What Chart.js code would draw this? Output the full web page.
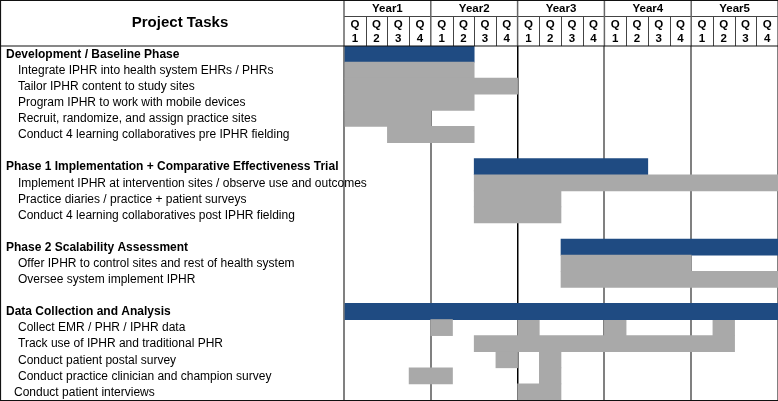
<!DOCTYPE html>
<html>
<head>
<meta charset="utf-8">
<script src="https://cdn.jsdelivr.net/npm/chart.js@4/dist/chart.umd.min.js"></script>
<style>
html,body{margin:0;padding:0;background:#fff;}
#wrap{width:778px;height:401px;position:relative;}
</style>
</head>
<body>
<div id="wrap"><canvas id="c" width="778" height="401"></canvas></div>
<script>
const tasks = [
  'Development / Baseline Phase',
  'Integrate IPHR into health system EHRs / PHRs',
  'Tailor IPHR content to study sites',
  'Program IPHR to work with mobile devices',
  'Recruit, randomize, and assign practice sites',
  'Conduct 4 learning collaboratives pre IPHR fielding',
  '',
  'Phase 1 Implementation + Comparative Effectiveness Trial',
  'Implement IPHR at intervention sites / observe use and outcomes',
  'Practice diaries / practice + patient surveys',
  'Conduct 4 learning collaboratives post IPHR fielding',
  '',
  'Phase 2 Scalability Assessment',
  'Offer IPHR to control sites and rest of health system',
  'Oversee system implement IPHR',
  '',
  'Data Collection and Analysis',
  'Collect EMR / PHR / IPHR data',
  'Track use of IPHR and traditional PHR',
  'Conduct patient postal survey',
  'Conduct practice clinician and champion survey',
  'Conduct patient interviews'
];
const phaseRows = [0, 7, 12, 16];
const years = ['Year1', 'Year2', 'Year3', 'Year4', 'Year5'];
const quarterLabels = ['1', '2', '3', '4'];
const headerTitle = 'Project Tasks';

// quarter index spans [start, end) — 0 = Year1 Q1, 20 = end of Year5
const seg1 = [[0,6],[0,6],[0,8],[0,6],[0,4],[2,6],null,[6,14],[6,20],[6,10],[6,10],null,[10,20],[10,16],[10,20],null,[0,20],[4,5],[6,18],[7,8],[3,5],[8,10]];
const seg2 = [null,null,null,null,null,null,null,null,null,null,null,null,null,null,null,null,null,[8,9],null,[9,10],[9,10],null];
const seg3 = [null,null,null,null,null,null,null,null,null,null,null,null,null,null,null,null,null,[12,13],null,null,null,null];
const seg4 = [null,null,null,null,null,null,null,null,null,null,null,null,null,null,null,null,null,[17,18],null,null,null,null];

const BLUE = '#1f4b82';
const GRAY = '#a9a9a9';
const FONT = '"Liberation Sans", Arial, Helvetica, sans-serif';

function barColor(ctx){ return phaseRows.includes(ctx.dataIndex) ? BLUE : GRAY; }
function mkSet(d){ return {data:d, backgroundColor:barColor, borderWidth:0, grouped:false, barPercentage:1, categoryPercentage:1}; }

const decor = {
  id:'decor',
  beforeDraw(chart){
    const c = chart.ctx;
    c.save(); c.fillStyle='#fff'; c.fillRect(0,0,chart.width,chart.height); c.restore();
  },
  afterDraw(chart){
    const c = chart.ctx, xs = chart.scales.x, ys = chart.scales.y, ca = chart.chartArea;
    c.save();
    // header
    const hTop = 0, hMid = 16, hBot = ca.top;
    c.fillStyle = '#000';
    c.textAlign = 'center'; c.textBaseline = 'middle';
    c.font = 'bold 15px ' + FONT;
    c.fillText(headerTitle, 180, 23);
    c.font = 'bold 11.5px ' + FONT;
    years.forEach((y,i)=>{
      const x0 = xs.getPixelForValue(i*4), x1 = xs.getPixelForValue(i*4+4);
      c.fillText(y, (x0+x1)/2, 8.5);
      quarterLabels.forEach((q,j)=>{
        const xc = xs.getPixelForValue(i*4+j+0.5);
        c.fillText('Q', xc, 25);
        c.fillText(q, xc, 38.5);
      });
    });
    // header lines
    c.strokeStyle = '#444'; c.lineWidth = 1;
    c.beginPath();
    c.moveTo(ca.left, hMid+0.5); c.lineTo(ca.right, hMid+0.5);
    for(let q=1;q<20;q++){ if(q%4===0) continue; const x=Math.round(xs.getPixelForValue(q))+0.5; c.moveTo(x,hMid); c.lineTo(x,hBot); }
    c.stroke();
    c.strokeStyle = '#666'; c.lineWidth = 1.5;
    c.beginPath();
    for(let q=0;q<=20;q+=4){ const x=xs.getPixelForValue(q); c.moveTo(x,hTop); c.lineTo(x,hBot); }
    c.stroke();
    c.strokeStyle = '#111'; c.lineWidth = 1.2;
    c.beginPath();
    c.moveTo(0,0.5); c.lineTo(chart.width,0.5);
    c.moveTo(0,hBot); c.lineTo(chart.width,hBot);
    c.moveTo(0.5,0); c.lineTo(0.5,chart.height);
    c.moveTo(0,ca.bottom+0.5); c.lineTo(chart.width,ca.bottom+0.5);
    c.stroke();
    // task labels
    c.textAlign = 'left'; c.textBaseline = 'middle'; c.fillStyle = '#000';
    tasks.forEach((t,i)=>{
      if(!t) return;
      const y = ys.getPixelForValue(i) + 0.5;
      const isPhase = phaseRows.includes(i);
      c.font = (isPhase ? 'bold 12px ' : '12px ') + FONT;
      const indent = isPhase ? 6 : (i === tasks.length-1 ? 14 : 18);
      c.fillText(t, indent, y);
    });
    c.restore();
  }
};

new Chart(document.getElementById('c'), {
  type:'bar',
  data:{ labels:tasks, datasets:[mkSet(seg1), mkSet(seg2), mkSet(seg3), mkSet(seg4)] },
  options:{
    indexAxis:'y',
    responsive:false,
    animation:false,
    layout:{padding:{left:0,right:0,top:0,bottom:1}},
    plugins:{legend:{display:false}, tooltip:{enabled:false}},
    scales:{
      x:{
        type:'linear', position:'top', min:0, max:20, z:1,
        ticks:{display:false, stepSize:4},
        border:{display:false},
        grid:{drawTicks:false, color:(ctx)=> ctx.tick && ctx.tick.value===8 ? '#000' : '#808080', lineWidth:(ctx)=> ctx.tick && ctx.tick.value===8 ? 1.5 : 2},
        afterFit:(s)=>{ s.height = 46; }
      },
      y:{
        type:'category', position:'left',
        ticks:{display:false},
        border:{display:false},
        grid:{display:false, drawTicks:false},
        afterFit:(s)=>{ s.width = 344; }
      }
    }
  },
  plugins:[decor]
});
</script>
</body>
</html>
